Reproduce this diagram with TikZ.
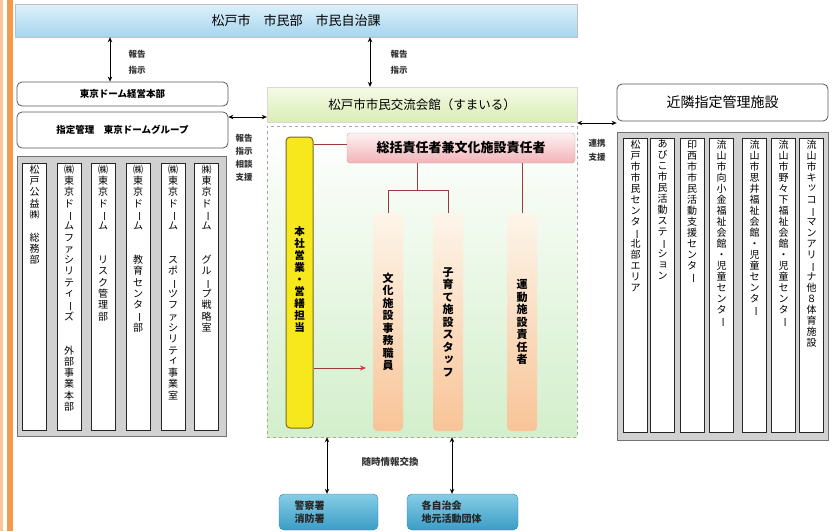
\documentclass[tikz,border=0pt]{standalone}
\usepackage{fontspec}
\setmainfont{Noto Sans CJK JP}
\usepackage{graphicx}
\usetikzlibrary{arrows.meta}
\makeatletter
\def\vt@loop#1{\ifx\relax#1\else\vt@char{#1}\expandafter\vt@loop\fi}
\def\vt@sm#1{\kern.14em\raise.14em\hbox{#1}}
\def\vt@char#1{\hbox to 1em{\hss\vt@glyph{#1}\hss}}
\def\vt@glyph#1{\ifx ー#1\rotatebox[origin=c]{-90}{ー}\else
  \ifx ッ#1\vt@sm{#1}\else\ifx ィ#1\vt@sm{#1}\else\ifx ョ#1\vt@sm{#1}\else
  \ifx ャ#1\vt@sm{#1}\else\ifx ュ#1\vt@sm{#1}\else#1\fi\fi\fi\fi\fi\fi}
\newcommand\vtext[2][11pt]{\vbox{\baselineskip=#1\relax\lineskiplimit=-50pt\lineskip=0pt\vt@loop#2\relax}}
\makeatother
\definecolor{stripeA}{HTML}{F9C596}
\definecolor{stripeB}{HTML}{F29B4E}
\definecolor{barTop}{HTML}{DDF1FB}
\definecolor{barBot}{HTML}{A6D5EE}
\definecolor{hallTop}{HTML}{F5FAE8}
\definecolor{hallBot}{HTML}{D9EDB3}
\definecolor{contBot}{HTML}{D3EFCB}
\definecolor{pinkTop}{HTML}{FDF2F2}
\definecolor{pinkBot}{HTML}{F2B3B8}
\definecolor{yel}{HTML}{F6E81C}
\definecolor{yelDraw}{HTML}{7A6A1E}
\definecolor{orTop}{HTML}{FDF5EA}
\definecolor{orBot}{HTML}{F8C497}
\definecolor{blTop}{HTML}{86CDE6}
\definecolor{blBot}{HTML}{3B9DC6}
\definecolor{blDraw}{HTML}{2E7FA6}
\definecolor{redline}{HTML}{9B3B3B}
\definecolor{redtip}{HTML}{E5303F}
\begin{document}
\begin{tikzpicture}[x=1pt,y=-1pt,
  every node/.style={inner sep=0pt},
  dbl/.style={{Stealth[length=5pt,width=4.5pt]}-{Stealth[length=5pt,width=4.5pt]}, line width=0.9pt, black},
  lbl/.style={font=\fontsize{8.5}{9}\selectfont\bfseries, text=black!80},
  topbar/.style={draw=black!25, top color=barTop, bottom color=barBot, minimum width=562pt, minimum height=33pt, font=\fontsize{13}{14}\selectfont},
  wbox/.style={draw=black!65, fill=white, rounded corners=5pt, line width=0.8pt, minimum width=211pt},
  outer/.style={draw=black!55, fill=black!18, line width=0.8pt},
  col/.style={draw=black!85, fill=white, line width=0.7pt, minimum width=24pt},
  ctext/.style={anchor=north, inner sep=0pt, yshift=-2pt, font=\fontsize{10}{11}\selectfont},
  ocol/.style={rounded corners=4pt, top color=orTop, bottom color=orBot, minimum width=30pt, minimum height=218pt, font=\fontsize{11}{12}\selectfont\bfseries},
  rl/.style={draw=redline, line width=1pt},
  bbox/.style={draw=blDraw, rounded corners=5pt, top color=blTop, bottom color=blBot, minimum height=36pt, font=\fontsize{10}{14}\selectfont\bfseries, text=black!85, align=left}
]
\useasboundingbox (0,0) rectangle (837,531);
% left stripes
\fill[stripeA] (0,0) rectangle (3,531);
\fill[stripeB] (7,0) rectangle (12.5,531);

% top bar
\node[topbar] (city) at (296,20.5) {松戸市　市民部　市民自治課};

% left side
\node[wbox, minimum height=24pt, font=\fontsize{9.5}{10}\selectfont\bfseries] (hq) at (122.5,94) {東京ドーム経営本部};
\node[wbox, minimum height=36pt, font=\fontsize{9.5}{10}\selectfont\bfseries] (grp) at (122.5,130) {指定管理　東京ドームグループ};
\node[outer, minimum width=209pt, minimum height=280pt] (lout) at (121.5,296) {};
\node[col, minimum height=267pt, label={[ctext]north:{\vtext[11.3pt]{松戸公益㈱　総務部}}}] (l1) at (34.5,296.5) {};
\node[col, minimum height=267pt, label={[ctext]north:{\vtext[11.3pt]{㈱東京ドームファシリティーズ　　外部事業本部}}}] (l2) at (69,296.5) {};
\node[col, minimum height=267pt, label={[ctext]north:{\vtext[11.3pt]{㈱東京ドーム　　リスク管理部}}}] (l3) at (103,296.5) {};
\node[col, minimum height=267pt, label={[ctext]north:{\vtext[11.3pt]{㈱東京ドーム　　教育センター部}}}] (l4) at (138,296.5) {};
\node[col, minimum height=267pt, label={[ctext]north:{\vtext[11.3pt]{㈱東京ドーム　　スポーツファシリティ事業室}}}] (l5) at (173,296.5) {};
\node[col, minimum height=267pt, label={[ctext]north:{\vtext[11.3pt]{㈱東京ドーム　　グループ戦略室}}}] (l6) at (206.5,296.5) {};

% center
\node[draw=black!15, top color=hallTop, bottom color=hallBot, minimum width=310pt, minimum height=35pt, font=\fontsize{12.5}{13}\selectfont] (hall) at (422,104.5) {松戸市市民交流会館（すまいる）};
\node[draw=black!35, dashed, top color=white, bottom color=contBot, minimum width=310pt, minimum height=311pt] (cont) at (422,281.5) {};
\node[draw=yelDraw, fill=yel, line width=1pt, rounded corners=4pt, minimum width=27pt, minimum height=291pt, font=\fontsize{10.5}{12}\selectfont\bfseries] (yelbox) at (299.5,282.5) {\raisebox{7pt}{\vtext[12pt]{本社営業・営繕担当}}};
\node[draw=black!30, top color=pinkTop, bottom color=pinkBot, rounded corners=3pt, minimum width=228pt, minimum height=30pt, font=\fontsize{13}{14}\selectfont\bfseries] (chief) at (461,148) {総括責任者兼文化施設責任者};
\node[ocol] (ca) at (388,322) {\vtext[12.5pt]{文化施設事務職員}};
\node[ocol] (cb) at (448,322) {\vtext[12.5pt]{子育て施設スタッフ}};
\node[ocol] (cc) at (522,322) {\vtext[12.5pt]{運動施設責任者}};

\draw[rl] (yelbox.east |- 0,144) -- (chief.west |- 0,144);
\coordinate (jn) at (417,190);
\draw[rl] (chief.south -| jn) -- (jn);
\draw[rl] (jn) -| (ca.north);
\draw[rl] (jn) -| (cb.north);
\draw[rl] (chief.south -| cc) -- (cc.north);
\coordinate (redend) at (366,368);
\draw[rl, -{Stealth[length=6pt,width=5pt,color=redtip]}] (yelbox.east |- redend) -- (redend);

% right side
\node[wbox, minimum height=37pt, font=\fontsize{14}{15}\selectfont] (near) at (722.5,102.5) {近隣指定管理施設};
\node[outer, minimum width=211pt, minimum height=308pt] (rout) at (722.5,286) {};
\node[col, minimum height=294pt, label={[ctext]north:{\vtext{松戸市市民センター北部エリア}}}] (r1) at (635.5,285) {};
\node[col, minimum height=294pt, label={[ctext]north:{\vtext{あびこ市民活動ステーション}}}] (r2) at (662.5,285) {};
\node[col, minimum height=294pt, label={[ctext]north:{\vtext{印西市市民活動支援センター}}}] (r3) at (692,285) {};
\node[col, minimum height=294pt, label={[ctext]north:{\vtext{流山市向小金福祉会館・児童センター}}}] (r4) at (721.5,285) {};
\node[col, minimum height=294pt, label={[ctext]north:{\vtext{流山市思井福祉会館・児童センター}}}] (r5) at (754.5,285) {};
\node[col, minimum height=294pt, label={[ctext]north:{\vtext{流山市野々下福祉会館・児童センター}}}] (r6) at (783.5,285) {};
\node[col, minimum height=294pt, label={[ctext]north:{\vtext{流山市キッコーマンアリーナ他８体育施設}}}] (r7) at (811.5,285) {};

% bottom
\node[bbox, minimum width=99pt] (police) at (328.5,512) {\hspace*{-38pt}\shortstack[l]{警察署\\消防署}};
\node[bbox, minimum width=111pt] (assoc) at (462.5,512) {\hspace*{-22pt}\shortstack[l]{各自治会\\地元活動団体}};

% connectors
\draw[dbl] (city.south -| 110,0) -- (hq.north -| 110,0);
\draw[dbl] (city.south -| 370,0) -- (hall.north -| 370,0);
\draw[dbl] (grp.east |- 0,117) -- (hall.west |- 0,117);
\draw[dbl] (cont.east |- 0,123) -- (near.west |- 0,123);
\draw[dbl] (cont.south -| 327,0) -- (police.north -| 327,0);
\draw[dbl] (cont.south -| 452,0) -- (assoc.north -| 452,0);

% labels
\node[lbl] (t1a) at (137,54) {報告};
\node[lbl] (t1b) at (137,70) {指示};
\node[lbl] (t2a) at (399,54) {報告};
\node[lbl] (t2b) at (399,70) {指示};
\node[lbl] (t3a) at (244,138) {報告};
\node[lbl] (t3b) at (244,151) {指示};
\node[lbl] (t3c) at (244,164) {相談};
\node[lbl] (t3d) at (244,177) {支援};
\node[lbl] (t4a) at (597,143) {連携};
\node[lbl] (t4b) at (597,157) {支援};
\node[lbl, font=\fontsize{9.5}{10}\selectfont\bfseries] (t5) at (390,462) {随時情報交換};
\end{tikzpicture}
\end{document}
